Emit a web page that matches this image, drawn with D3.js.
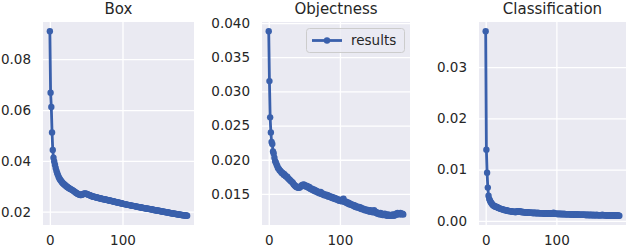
<!DOCTYPE html>
<html>
<head>
<meta charset="utf-8">
<script src="https://cdn.jsdelivr.net/npm/d3@7"></script>
<style>
  html, body { margin: 0; padding: 0; background: #fff; }
  svg { display: block; font-family: "DejaVu Sans", sans-serif; }
</style>
</head>
<body>
<div id="chart"></div>
<script>
// epoch losses, epochs 0..189
const boxLoss = [
  0.0910, 0.0668, 0.0612, 0.0512, 0.0443, 0.0412, 0.0398, 0.0385, 0.0372, 0.0361,
  0.0352, 0.0345, 0.0338, 0.0332, 0.0327, 0.0323, 0.0319, 0.0315, 0.0312, 0.0309,
  0.0307, 0.0304, 0.0302, 0.0299, 0.0297, 0.0295, 0.0293, 0.0291, 0.0290, 0.0288,
  0.0287, 0.0285, 0.0283, 0.0281, 0.0279, 0.0277, 0.0275, 0.0273, 0.0271, 0.0270,
  0.0268, 0.0267, 0.0266, 0.0266, 0.0267, 0.0268, 0.0270, 0.0271, 0.0272, 0.0271,
  0.0271, 0.0270, 0.0268, 0.0267, 0.0266, 0.0265, 0.0264, 0.0262, 0.0261, 0.0260,
  0.0259, 0.0259, 0.0258, 0.0257, 0.0256, 0.0256, 0.0255, 0.0254, 0.0253, 0.0253,
  0.0252, 0.0251, 0.0250, 0.0250, 0.0249, 0.0249, 0.0248, 0.0247, 0.0247, 0.0246,
  0.0245, 0.0245, 0.0244, 0.0243, 0.0243, 0.0242, 0.0241, 0.0241, 0.0240, 0.0239,
  0.0238, 0.0238, 0.0237, 0.0236, 0.0236, 0.0235, 0.0234, 0.0234, 0.0233, 0.0232,
  0.0232, 0.0231, 0.0230, 0.0230, 0.0229, 0.0229, 0.0228, 0.0227, 0.0227, 0.0226,
  0.0226, 0.0225, 0.0224, 0.0224, 0.0223, 0.0223, 0.0222, 0.0222, 0.0221, 0.0220,
  0.0220, 0.0219, 0.0219, 0.0218, 0.0218, 0.0217, 0.0217, 0.0216, 0.0215, 0.0215,
  0.0214, 0.0214, 0.0213, 0.0213, 0.0212, 0.0212, 0.0211, 0.0211, 0.0210, 0.0210,
  0.0209, 0.0209, 0.0208, 0.0207, 0.0207, 0.0206, 0.0206, 0.0205, 0.0205, 0.0204,
  0.0204, 0.0203, 0.0203, 0.0202, 0.0201, 0.0201, 0.0200, 0.0200, 0.0199, 0.0199,
  0.0198, 0.0198, 0.0197, 0.0197, 0.0196, 0.0195, 0.0195, 0.0194, 0.0194, 0.0193,
  0.0193, 0.0192, 0.0192, 0.0191, 0.0191, 0.0190, 0.0190, 0.0189, 0.0189, 0.0188,
  0.0188, 0.0187, 0.0187, 0.0186, 0.0186, 0.0186, 0.0185, 0.0185, 0.0185, 0.0184
];

const objLoss = [
  0.0388, 0.0315, 0.0262, 0.0240, 0.0226, 0.0223, 0.0212, 0.0209, 0.0203, 0.0198,
  0.0196, 0.0193, 0.0191, 0.0188, 0.0187, 0.0185, 0.0184, 0.0183, 0.0181, 0.0181,
  0.0180, 0.0178, 0.0179, 0.0177, 0.0176, 0.0175, 0.0175, 0.0173, 0.0172, 0.0171,
  0.0170, 0.0169, 0.0168, 0.0167, 0.0166, 0.0164, 0.0163, 0.0162, 0.0161, 0.0160,
  0.0160, 0.0159, 0.0160, 0.0159, 0.0160, 0.0161, 0.0162, 0.0163, 0.0162, 0.0164,
  0.0163, 0.0162, 0.0161, 0.0162, 0.0160, 0.0161, 0.0159, 0.0160, 0.0158, 0.0157,
  0.0158, 0.0156, 0.0157, 0.0155, 0.0156, 0.0154, 0.0155, 0.0153, 0.0154, 0.0152,
  0.0153, 0.0151, 0.0152, 0.0153, 0.0150, 0.0151, 0.0149, 0.0150, 0.0148, 0.0149,
  0.0148, 0.0149, 0.0147, 0.0148, 0.0146, 0.0147, 0.0146, 0.0145, 0.0146, 0.0144,
  0.0145, 0.0144, 0.0143, 0.0144, 0.0142, 0.0143, 0.0142, 0.0141, 0.0142, 0.0140,
  0.0141, 0.0140, 0.0141, 0.0139, 0.0140, 0.0143, 0.0139, 0.0138, 0.0139, 0.0137,
  0.0138, 0.0136, 0.0137, 0.0135, 0.0136, 0.0134, 0.0135, 0.0134, 0.0133, 0.0134,
  0.0132, 0.0133, 0.0131, 0.0132, 0.0130, 0.0131, 0.0130, 0.0131, 0.0129, 0.0130,
  0.0128, 0.0129, 0.0128, 0.0127, 0.0128, 0.0126, 0.0127, 0.0126, 0.0127, 0.0125,
  0.0126, 0.0125, 0.0124, 0.0126, 0.0124, 0.0125, 0.0123, 0.0124, 0.0126, 0.0123,
  0.0124, 0.0122, 0.0123, 0.0121, 0.0122, 0.0121, 0.0120, 0.0122, 0.0120, 0.0121,
  0.0119, 0.0120, 0.0119, 0.0121, 0.0119, 0.0120, 0.0118, 0.0119, 0.0120, 0.0118,
  0.0119, 0.0118, 0.0119, 0.0118, 0.0120, 0.0119, 0.0118, 0.0120, 0.0119, 0.0121,
  0.0120, 0.0122, 0.0121, 0.0120, 0.0121, 0.0122, 0.0121, 0.0120, 0.0121, 0.0120
];

const clsLoss = [
  0.0370, 0.0139, 0.0094, 0.0065, 0.0049, 0.0043, 0.0040, 0.0037, 0.0035, 0.0033,
  0.0031, 0.0030, 0.0029, 0.0028, 0.0028, 0.0027, 0.0027, 0.0026, 0.0025, 0.0025,
  0.0024, 0.0024, 0.0023, 0.0023, 0.0022, 0.0022, 0.0022, 0.0021, 0.0021, 0.0021,
  0.0020, 0.0020, 0.0020, 0.0019, 0.0019, 0.0019, 0.0019, 0.0018, 0.0018, 0.0018,
  0.0018, 0.0018, 0.0017, 0.0018, 0.0018, 0.0019, 0.0019, 0.0018, 0.0019, 0.0018,
  0.0018, 0.0017, 0.0018, 0.0017, 0.0017, 0.0017, 0.0017, 0.0016, 0.0017, 0.0016,
  0.0017, 0.0016, 0.0016, 0.0016, 0.0016, 0.0016, 0.0016, 0.0015, 0.0016, 0.0016,
  0.0015, 0.0016, 0.0015, 0.0015, 0.0016, 0.0015, 0.0015, 0.0015, 0.0015, 0.0015,
  0.0015, 0.0015, 0.0014, 0.0015, 0.0015, 0.0014, 0.0015, 0.0014, 0.0015, 0.0014,
  0.0015, 0.0014, 0.0014, 0.0015, 0.0014, 0.0014, 0.0016, 0.0014, 0.0014, 0.0014,
  0.0014, 0.0014, 0.0013, 0.0014, 0.0014, 0.0013, 0.0014, 0.0013, 0.0014, 0.0013,
  0.0013, 0.0014, 0.0013, 0.0013, 0.0013, 0.0013, 0.0013, 0.0013, 0.0013, 0.0013,
  0.0013, 0.0012, 0.0013, 0.0013, 0.0012, 0.0013, 0.0012, 0.0013, 0.0012, 0.0012,
  0.0013, 0.0012, 0.0012, 0.0012, 0.0012, 0.0012, 0.0012, 0.0012, 0.0012, 0.0012,
  0.0012, 0.0012, 0.0011, 0.0012, 0.0012, 0.0011, 0.0012, 0.0011, 0.0012, 0.0011,
  0.0012, 0.0011, 0.0011, 0.0012, 0.0011, 0.0011, 0.0011, 0.0012, 0.0011, 0.0011,
  0.0011, 0.0011, 0.0011, 0.0011, 0.0011, 0.0012, 0.0011, 0.0011, 0.0011, 0.0011,
  0.0011, 0.0010, 0.0011, 0.0011, 0.0010, 0.0011, 0.0011, 0.0010, 0.0011, 0.0011,
  0.0010, 0.0011, 0.0010, 0.0010, 0.0011, 0.0010, 0.0010, 0.0011, 0.0010, 0.0010
];

const titles = ["Box", "Objectness", "Classification"];
const xTicks = [0, 100];
const boxTicks = [0.02, 0.04, 0.06, 0.08];
const objTicks = [0.015, 0.020, 0.025, 0.030, 0.035, 0.040];
const clsTicks = [0.00, 0.01, 0.02, 0.03];
const legendLabel = "results";

const width = 630;
const height = 251;
const color = "#3a60ac";
const bg = "#eaeaf2";
const textColor = "#262626";

const svg = d3.select("#chart")
  .append("svg")
  .attr("width", width)
  .attr("height", height);

function createChart(series, config) {
  const n = series.length - 1;
  const pad = n * 0.05;

  const x = d3.scaleLinear()
    .domain([-pad, n + pad])
    .range([config.left, config.right]);

  const [lo, hi] = d3.extent(series);
  const yPad = (hi - lo) * 0.05;
  const y = d3.scaleLinear()
    .domain([lo - yPad, hi + yPad])
    .range([config.bottom, config.top]);

  const g = svg.append("g");

  g.append("rect")
    .attr("x", config.left)
    .attr("y", config.top)
    .attr("width", config.right - config.left)
    .attr("height", config.bottom - config.top)
    .attr("fill", bg);

  const yAxis = d3.axisLeft(y)
    .tickValues(config.yTicks)
    .tickFormat(d3.format(config.fmt))
    .tickSize(-(config.right - config.left))
    .tickPadding(12);

  const xAxis = d3.axisBottom(x)
    .tickValues(xTicks)
    .tickFormat(d3.format("d"))
    .tickSize(-(config.bottom - config.top))
    .tickPadding(10);

  const styleAxis = a => {
    a.select(".domain").remove();
    a.selectAll(".tick line").attr("stroke", "#fff").attr("stroke-width", 1.3);
    a.selectAll(".tick text")
      .attr("fill", textColor)
      .style("font-size", "13.5px")
      .style("font-family", "DejaVu Sans, sans-serif");
  };

  g.append("g")
    .attr("transform", `translate(${config.left},0)`)
    .call(yAxis)
    .call(styleAxis);

  g.append("g")
    .attr("transform", `translate(0,${config.bottom})`)
    .call(xAxis)
    .call(styleAxis);

  const line = d3.line()
    .x((d, i) => x(i))
    .y(d => y(d));

  g.append("path")
    .datum(series)
    .attr("fill", "none")
    .attr("stroke", color)
    .attr("stroke-width", 2.8)
    .attr("stroke-linejoin", "round")
    .attr("d", line);

  g.selectAll("circle")
    .data(series)
    .join("circle")
    .attr("cx", (d, i) => x(i))
    .attr("cy", d => y(d))
    .attr("r", 3.2)
    .attr("fill", color);

  g.append("text")
    .attr("x", (config.left + config.right) / 2)
    .attr("y", 14)
    .attr("text-anchor", "middle")
    .attr("fill", textColor)
    .style("font-size", "15px")
    .text(config.title);

  if (config.legend) {
    const lg = g.append("g").attr("transform", `translate(${config.right - 104},28)`);
    lg.append("rect")
      .attr("x", 0.5)
      .attr("y", 0.5)
      .attr("width", 98)
      .attr("height", 24)
      .attr("rx", 3)
      .attr("fill", bg)
      .attr("fill-opacity", 0.8)
      .attr("stroke", "#cccccc");
    lg.append("line")
      .attr("x1", 6)
      .attr("x2", 36)
      .attr("y1", 12.5)
      .attr("y2", 12.5)
      .attr("stroke", color)
      .attr("stroke-width", 2.8);
    lg.append("circle")
      .attr("cx", 21)
      .attr("cy", 12.5)
      .attr("r", 3.2)
      .attr("fill", color);
    lg.append("text")
      .attr("x", 45)
      .attr("y", 12.5)
      .attr("dy", "0.35em")
      .attr("fill", textColor)
      .style("font-size", "13.5px")
      .text(legendLabel);
  }
}

createChart(boxLoss, { title: titles[0], left: 43, right: 194, top: 22, bottom: 225, yTicks: boxTicks, fmt: ".2f" });
createChart(objLoss, { title: titles[1], left: 262, right: 410, top: 22, bottom: 225, yTicks: objTicks, fmt: ".3f", legend: true });
createChart(clsLoss, { title: titles[2], left: 479, right: 626, top: 22, bottom: 225, yTicks: clsTicks, fmt: ".2f" });
</script>
</body>
</html>
